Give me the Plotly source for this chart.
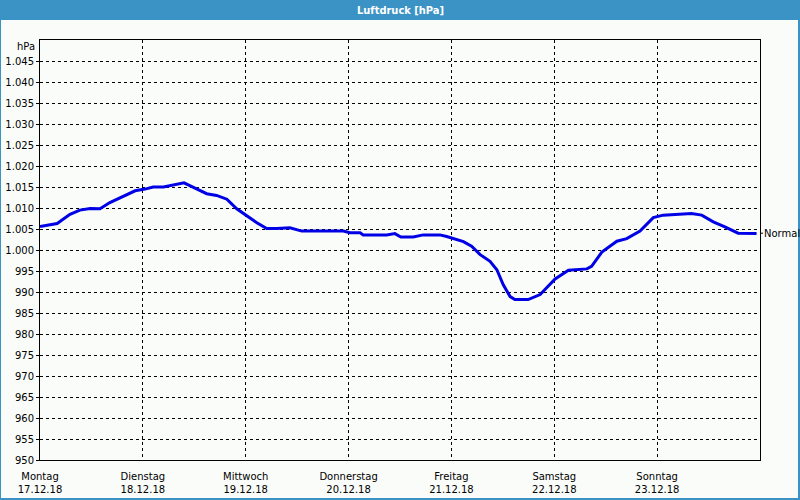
import plotly.graph_objects as go

# hours since Monday 17.12.18 00:00
hours = [0, 4, 7, 9.3, 11.7, 14, 16.3, 19.4, 22.2, 24.5, 26.4, 28.8, 31.1, 33.6, 35.8,
         38.9, 41.2, 43.6, 45.9, 48.2, 50.6, 52.9, 55.2, 58.3, 61.1, 70.8, 72.3, 74.7,
         75.4, 80.9, 82.8, 84.2, 87.1, 89.4, 93.3, 94.9, 96.4, 98.8, 100.7, 102.7, 105,
         106.6, 108.1, 109.7, 110.8, 113.9, 116.7, 117.4, 120.2, 123.3, 127.6, 128.7,
         131.1, 134.6, 136.9, 140, 143.1, 145.4, 150.9, 152, 154.4, 157.1, 159.8, 162.9,
         167.2]
pressure = [1005.6, 1006.3, 1008.5, 1009.5, 1009.9, 1009.8, 1011.3, 1012.7, 1014.1,
            1014.5, 1015.0, 1015.0, 1015.4, 1016.0, 1014.9, 1013.4, 1013.0, 1012.1,
            1009.8, 1008.1, 1006.5, 1005.1, 1005.1, 1005.3, 1004.5, 1004.5, 1004.1,
            1004.1, 1003.6, 1003.6, 1003.9, 1003.1, 1003.1, 1003.6, 1003.6, 1003.2,
            1002.7, 1002.0, 1000.9, 998.9, 997.3, 995.3, 991.7, 988.9, 988.2, 988.2,
            989.4, 990.1, 993.1, 995.2, 995.5, 996.1, 999.5, 1002.1, 1002.7, 1004.5,
            1007.7, 1008.3, 1008.5, 1008.7, 1008.3, 1006.7, 1005.5, 1004.0, 1003.9]

day_ticks = [0, 24, 48, 72, 96, 120, 144]
day_labels = ["Montag<br>17.12.18", "Dienstag<br>18.12.18", "Mittwoch<br>19.12.18",
              "Donnerstag<br>20.12.18", "Freitag<br>21.12.18", "Samstag<br>22.12.18",
              "Sonntag<br>23.12.18"]
y_ticks = list(range(950, 1050, 5))
y_labels = [("{:,}".format(v)).replace(",", ".") for v in y_ticks]
normal_value = 1004
title = "Luftdruck [hPa]"

FONT = "DejaVu Sans"
BLUE_FRAME = "#3b93c5"

fig = go.Figure()
fig.add_trace(go.Scatter(x=hours, y=pressure, mode="lines",
                         line=dict(color="#0000e6", width=3), hoverinfo="skip"))

fig.update_layout(
    width=800, height=500,
    margin=dict(l=40, r=40, t=40, b=40, autoexpand=False),
    paper_bgcolor="#fafcfa", plot_bgcolor="#fafcfa",
    showlegend=False,
    font=dict(family=FONT, size=10, color="#000000"),
    xaxis=dict(range=[0, 168], tickvals=day_ticks, ticktext=day_labels,
               showgrid=True, gridcolor="#000000", gridwidth=1, griddash="3px,3px",
               showline=True, linecolor="#000000", linewidth=1, mirror=True,
               ticks="", zeroline=False, automargin=False, ticklabelstandoff=7,
               tickfont=dict(family=FONT, size=10)),
    yaxis=dict(range=[950, 1050], tickvals=y_ticks, ticktext=y_labels,
               showgrid=True, gridcolor="#000000", gridwidth=1, griddash="3px,3px",
               showline=True, linecolor="#000000", linewidth=1, mirror=True,
               ticks="outside", ticklen=3, tickcolor="#000000", zeroline=False,
               automargin=False, tickfont=dict(family=FONT, size=10)),
)

# title bar and frame
fig.add_shape(type="rect", xref="paper", yref="paper", x0=-0.06, x1=1.06,
              y0=1 + 20/420, y1=1 + 41/420, fillcolor=BLUE_FRAME, line_width=0)
fig.add_shape(type="rect", xref="paper", yref="paper", x0=-40/720, x1=-39/720,
              y0=-40/420, y1=1 + 40/420, fillcolor=BLUE_FRAME, line_width=0)
fig.add_shape(type="rect", xref="paper", yref="paper", x0=1 + 38/720, x1=1 + 40/720,
              y0=-40/420, y1=1 + 40/420, fillcolor=BLUE_FRAME, line_width=0)
fig.add_shape(type="rect", xref="paper", yref="paper", x0=-40/720, x1=1 + 40/720,
              y0=-40/420, y1=-38/420, fillcolor=BLUE_FRAME, line_width=0)

fig.add_annotation(text="<b>" + title + "</b>", xref="paper", yref="paper",
                   x=0.5, y=1 + 30/420, yanchor="middle", showarrow=False,
                   font=dict(family="Liberation Sans Narrow, DejaVu Sans Condensed, DejaVu Sans",
                             size=11, color="#ffffff"))
fig.add_annotation(text="hPa", xref="paper", yref="paper", x=0, y=1,
                   xanchor="right", yanchor="middle", xshift=-3, yshift=-6,
                   showarrow=False, font=dict(family=FONT, size=10))
# Normal marker
fig.add_shape(type="line", xref="paper", yref="y", x0=1, x1=1 + 3/720,
              y0=normal_value, y1=normal_value, line=dict(color="#000000", width=1))
fig.add_annotation(text="Normal", xref="paper", yref="y", x=1, y=normal_value,
                   xanchor="left", yanchor="middle", xshift=2, showarrow=False,
                   font=dict(family=FONT, size=10))

fig.write_html("out.html", config={"displayModeBar": False},
               post_script="document.body.style.margin='0px';document.body.style.overflow='hidden';")
